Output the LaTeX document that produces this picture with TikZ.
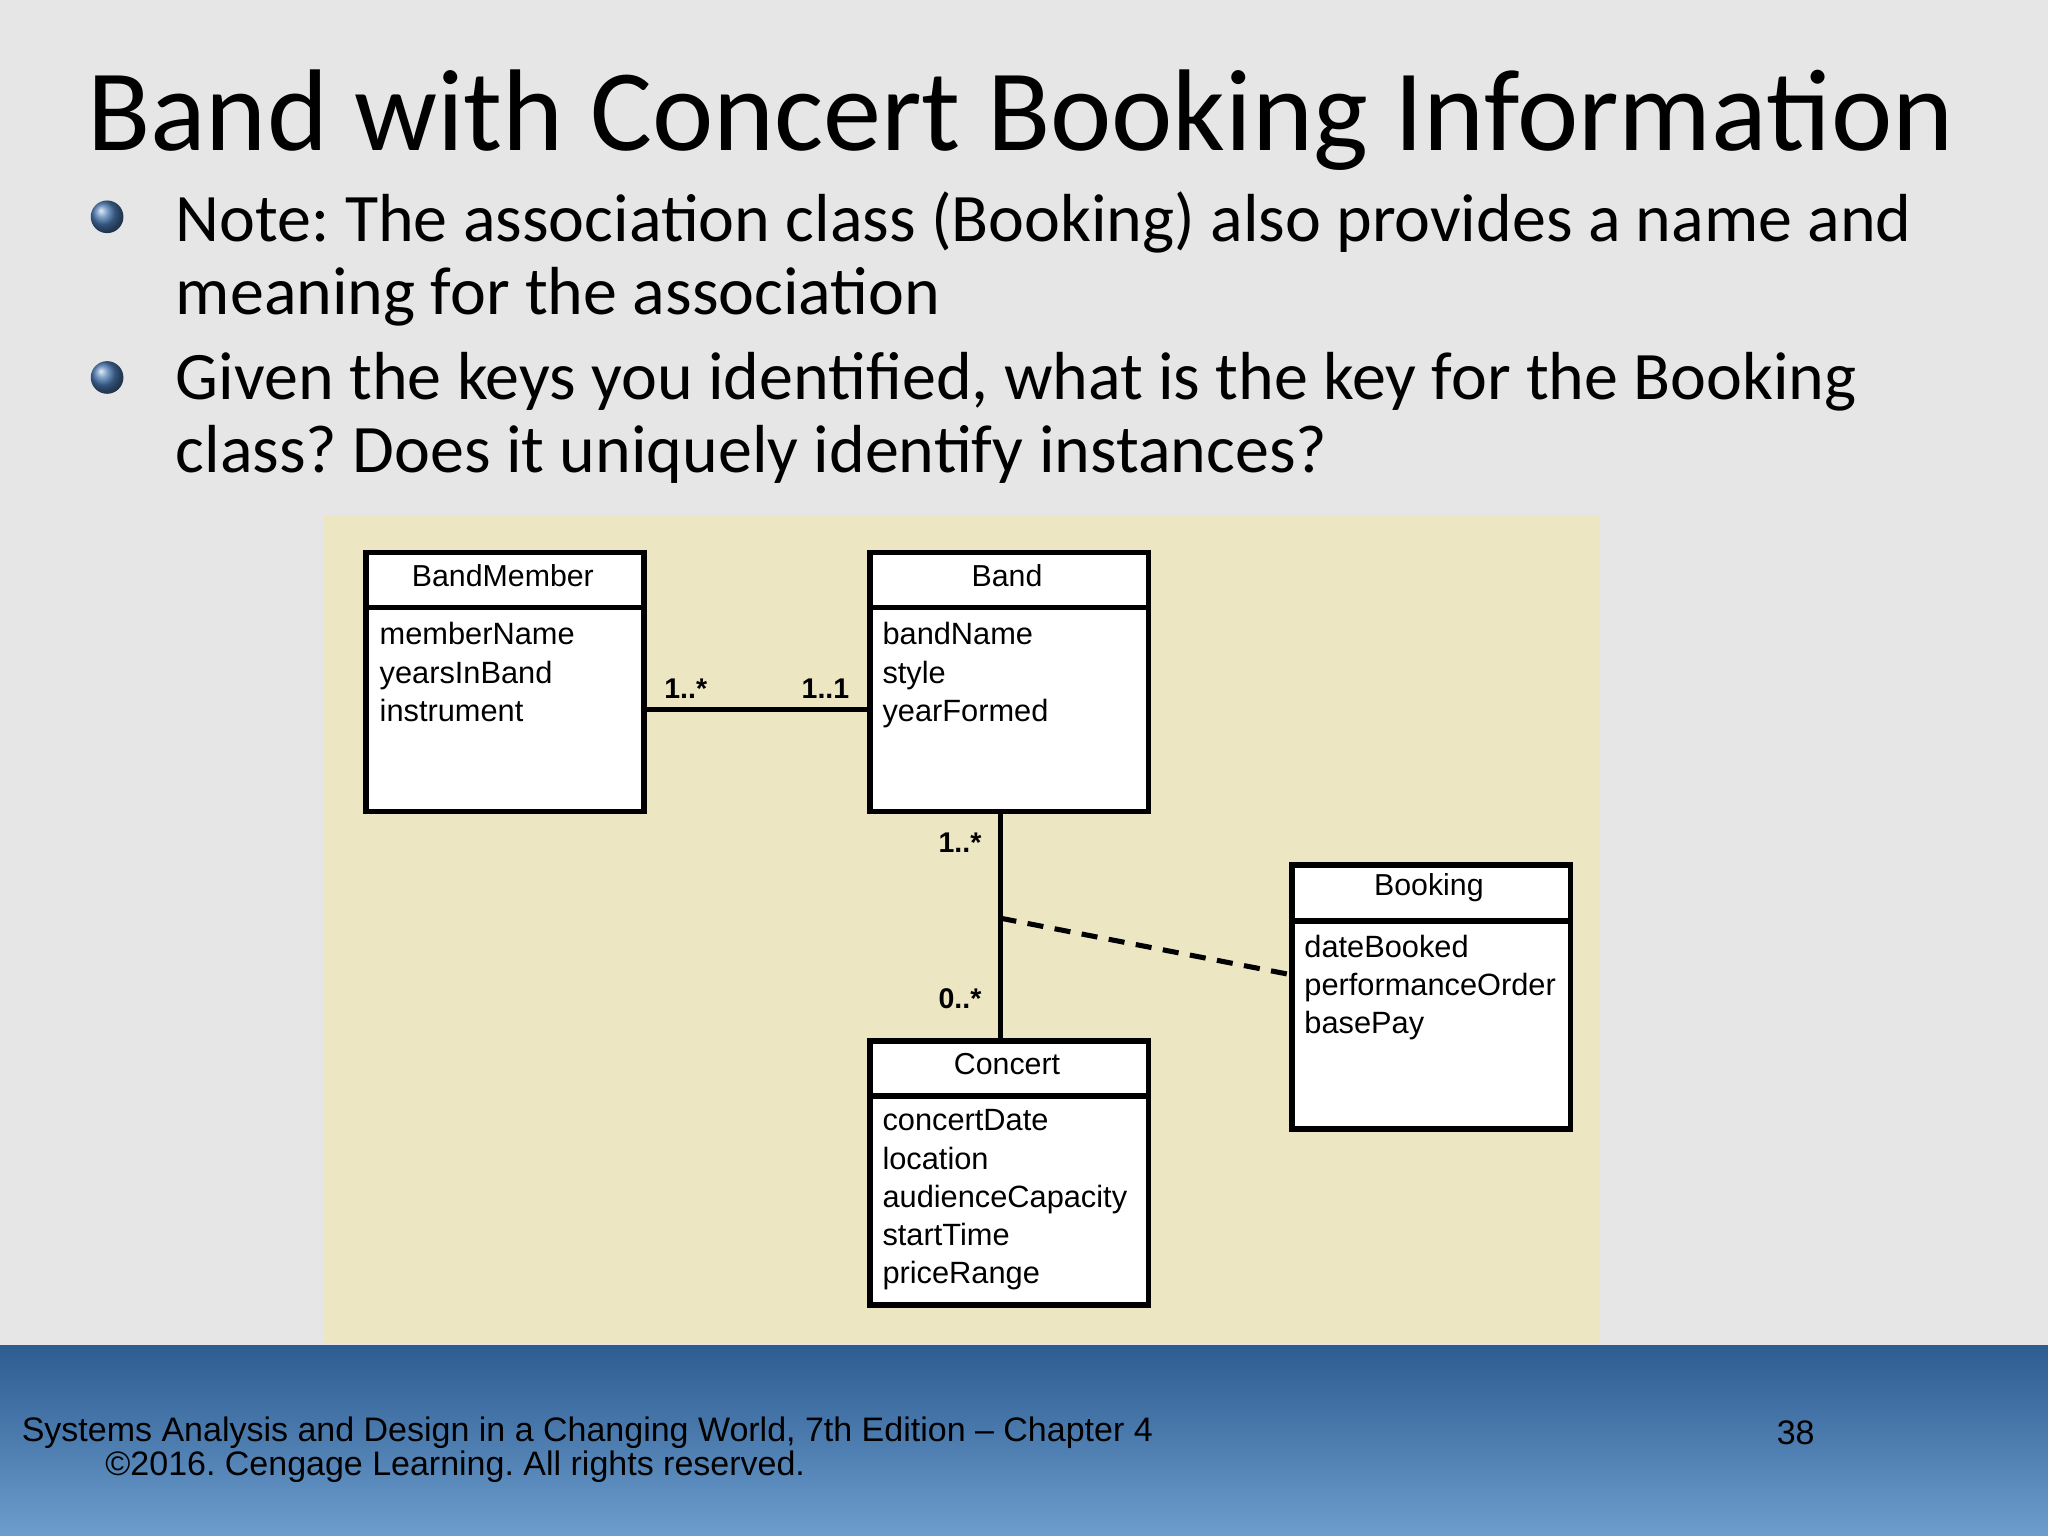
\documentclass[tikz,border=0pt]{standalone}
\usepackage{fontspec}
\setmainfont{Carlito}
\newfontfamily\arial{Liberation Sans}
\usetikzlibrary{calc}
\definecolor{panel}{HTML}{ECE6C2}
\definecolor{bgc}{HTML}{E6E6E6}
\definecolor{bluetop}{HTML}{2D5C91}
\definecolor{bluebot}{HTML}{6C9DCD}
\definecolor{ballc}{HTML}{4A78B0}
\frenchspacing
\begin{document}
\begin{tikzpicture}[x=0.01cm,y=-0.01cm,
  cls/.style={draw,line width=1.2pt,fill=white,anchor=north west,inner sep=0pt},
  attr/.style={anchor=north west,font=\arial\fontsize{6.7}{8.3}\selectfont,align=left,inner sep=0pt},
  hdr/.style={font=\arial\fontsize{6.6}{8}\selectfont},
  mult/.style={font=\arial\bfseries\fontsize{6.2}{7}\selectfont},
  bul/.style={circle,minimum size=0.25cm,inner sep=0pt,ball color=ballc}]
\useasboundingbox (0,0) rectangle (1568,1176);
\fill[bgc] (0,0) rectangle (1568,1176);
\shade[top color=bluetop,bottom color=bluebot] (0,1030) rectangle (1568,1176);
\fill[panel] (248,395) rectangle (1225,1028);
% title and bullets
\node[anchor=west,inner sep=0pt,font=\fontsize{25.3}{30}\selectfont] (title) at (66,92) {Band with Concert Booking Information};
\node[bul] (b1) at (82,166) {};
\node[bul] (b2) at (82,289) {};
\node[anchor=north west,inner sep=0pt,align=left,font=\fontsize{14.8}{15.9}\selectfont] (t1) at (134,146) {Note: The association class (Booking) also provides a name and\\meaning for the association};
\node[anchor=north west,inner sep=0pt,align=left,font=\fontsize{14.8}{15.9}\selectfont] (t2) at (134,269) {Given the keys you identified, what is the key for the Booking\\class? Does it uniquely identify instances?};
% classes
\node[cls,minimum width=2.13cm,minimum height=1.98cm] (bm) at (278,421) {};
\draw[line width=1.2pt] (278,465) -- (494,465);
\node[hdr] (bmh) at (385,441) {BandMember};
\node[attr] (bma) at (290,476) {memberName\\yearsInBand\\instrument};
\node[cls,minimum width=2.13cm,minimum height=1.98cm] (band) at (664,421) {};
\draw[line width=1.2pt] (664,465) -- (879,465);
\node[hdr] (bandh) at (771,441) {Band};
\node[attr] (banda) at (675,476) {bandName\\style\\yearFormed};
\node[cls,minimum width=2.13cm,minimum height=2.02cm] (bk) at (987,660) {};
\draw[line width=1.2pt] (987,705) -- (1202,705);
\node[hdr] (bkh) at (1094,680) {Booking};
\node[attr] (bka) at (998,715) {dateBooked\\performanceOrder\\basePay};
\node[cls,minimum width=2.13cm,minimum height=2.02cm] (co) at (664,795) {};
\draw[line width=1.2pt] (664,839) -- (879,839);
\node[hdr] (coh) at (771,815) {Concert};
\node[attr] (coa) at (675,849) {concertDate\\location\\audienceCapacity\\startTime\\priceRange};
% connectors
\coordinate (yl) at (0,543);
\coordinate (xv) at (766,0);
\coordinate (mid) at (766,703);
\draw[line width=1.1pt] (bm.east |- yl) -- (band.west |- yl);
\draw[line width=1.1pt] (xv |- band.south) -- (xv |- co.north);
\draw[line width=1.1pt,dash pattern=on 3.5pt off 2.5pt] (mid) -- (bk.west |- 0,746);
\node[mult] (m1) at (525,527) {1..*};
\node[mult] (m2) at (632,527) {1..1};
\node[mult] (m3) at (735,645) {1..*};
\node[mult] (m4) at (735,765) {0..*};
% footer
\node[anchor=west,inner sep=0pt,font=\arial\fontsize{7.4}{8}\selectfont] (f1) at (16,1097) {Systems Analysis and Design in a Changing World, 7th Edition – Chapter 4};
\node[anchor=west,inner sep=0pt,font=\arial\fontsize{7.4}{8}\selectfont] (f2) at (80,1123) {©2016. Cengage Learning. All rights reserved.};
\node[anchor=east,inner sep=0pt,font=\arial\fontsize{7.4}{8}\selectfont] (pg) at (1390,1097) {38};
\end{tikzpicture}
\end{document}
